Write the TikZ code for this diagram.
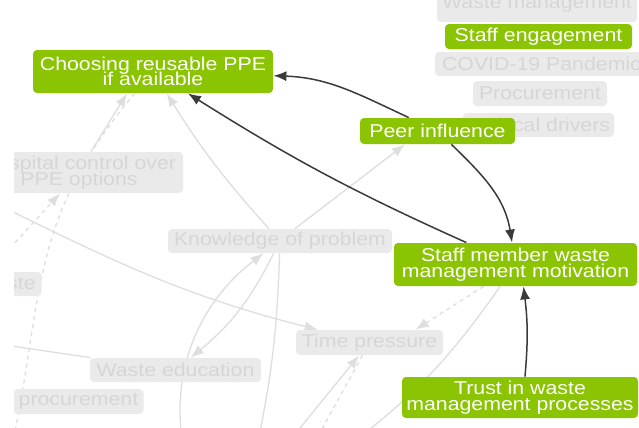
\documentclass[tikz,border=0pt]{standalone}
\usepackage{fontspec}
\setmainfont{Liberation Sans}[FakeStretch=1.145]
\usepackage{tikz}
\usetikzlibrary{arrows.meta}
\pgfdeclarelayer{background}
\pgfsetlayers{background,main}
\definecolor{factorgreen}{RGB}{138,196,2}
\definecolor{fadefill}{RGB}{234,234,234}
\definecolor{fadetext}{RGB}{214,214,214}
\definecolor{fadeline}{RGB}{222,222,222}
\definecolor{linkdark}{RGB}{58,58,58}
\newcommand{\mapfont}{\fontsize{9.3pt}{7.8pt}\selectfont\lineskiplimit=-9pt\relax}
\tikzset{
  factor/.style={fill=factorgreen, text=white, rounded corners=2pt, inner sep=0pt, align=center, font=\mapfont},
  faded/.style={fill=fadefill, text=fadetext, rounded corners=2pt, inner sep=0pt, align=center, font=\mapfont},
  link/.style={draw=linkdark, line width=0.75pt, -{Latex[length=6.5pt,width=5pt]}},
  fadedlink/.style={draw=fadeline, line width=0.65pt, -{Latex[length=6.5pt,width=5pt]}},
  fadeddots/.style={fadedlink, dash pattern=on 2pt off 2pt}
}

\begin{document}
\begin{tikzpicture}[x=0.5pt, y=-0.5pt]
  \useasboundingbox (0,0) rectangle (639,428);

  % factors outside the selection
  \begin{scope}
    \clip (14,0) rectangle (639,428);
    \node[faded, minimum width=100pt, minimum height=18pt] (wastemgmt) at (537,4) {Waste management};
    \node[faded, minimum width=106.5pt, minimum height=12pt] (covid) at (541.5,64) {COVID-19 Pandemic};
    \node[faded, minimum width=67pt, minimum height=12.5pt] (procure) at (540,93.5) {Procurement};
    \node[faded, minimum width=75.5pt, minimum height=12pt] (political) at (538.5,125) {Political drivers};
    \node[faded, minimum width=104pt, minimum height=20.5pt] (hospital) at (79,172.5) {Hospital control over\\PPE options};
    \node[faded, minimum width=112pt, minimum height=12pt] (knowledge) at (280,241) {Knowledge of problem};
    \node[faded, anchor=east, minimum height=12pt, text width=25pt, align=right, inner xsep=3pt] (ste) at (42,284) {ste};
    \node[faded, minimum width=73.5pt, minimum height=12.5pt] (timepress) at (369.5,342.5) {Time pressure};
    \node[faded, minimum width=85.5pt, minimum height=12pt] (wasteedu) at (175.5,370) {Waste education};
    \node[faded, minimum width=65pt, minimum height=12.5pt] (procurement) at (78.5,401.5) {procurement};
  \end{scope}

  % selected factors
  \node[factor, minimum width=120pt, minimum height=21.5pt] (choose) at (153,71.5) {Choosing reusable PPE\\if available};
  \node[factor, minimum width=93.5pt, minimum height=12.5pt] (engage) at (538.5,36.5) {Staff engagement};
  \node[factor, minimum width=77.5pt, minimum height=13pt] (peer) at (437.5,131) {Peer influence};
  \node[factor, minimum width=121.5pt, minimum height=21.5pt] (motiv) at (515.5,264.5) {Staff member waste\\management motivation};
  \node[factor, minimum width=118pt, minimum height=20.5pt] (trust) at (520,397.5) {Trust in waste\\management processes};

  \begin{pgfonlayer}{background}
    \fill[white] (0,0) rectangle (639,428);
    \begin{scope}
      \clip (14,0) rectangle (639,428);
      \coordinate (offA) at (-28,290);
      \coordinate (offB) at (10,455);
      \coordinate (offC) at (-40,186);
      \coordinate (offD) at (182,440);
      \coordinate (offE) at (255,455);
      \coordinate (offF) at (274,460);
      \coordinate (offG) at (309,453);
      \coordinate (offH) at (340,452);
      \coordinate (offI) at (-40,338.5);

      % faint links
      \draw[fadedlink] ([xshift=6pt]hospital.north) -- ([xshift=-13pt]choose.south);
      \draw[fadeddots] (choose) to[out=230, in=78, looseness=1.1] (offB);
      \draw[fadeddots] (offA) -- (hospital);
      \draw[fadedlink] (offC) to[out=-26, in=166] (timepress);
      \draw[fadedlink] (knowledge) to[bend left=5] (choose);
      \draw[fadedlink] ([xshift=7.5pt]knowledge.north) -- ([xshift=-16.25pt]peer.south);
      \draw[fadedlink] (knowledge) to[bend left=12] (wasteedu);
      \draw[fadedlink] (offD) .. controls (170,350) and (215,290) .. (knowledge);
      \draw[fadedlink] (knowledge) to[bend left=5] (offE);
      \draw[fadedlink] (offF) -- (timepress);
      \draw[fadeddots] (timepress) -- (offG);
      \draw[fadeddots] ([xshift=-16pt]motiv.south) -- ([xshift=23pt]timepress.north);
      \draw[fadedlink] (motiv) to[out=235, in=37] (offH);
      \draw[fadedlink] (wasteedu) -- (offI);

      % links between selected factors
      \draw[link] (motiv) to[bend left=4] (choose);
      \draw[link] (peer) to[out=155, in=-2] (choose);
      \draw[link] (peer) to[out=-44, in=99] (motiv);
      \draw[link] ([xshift=2.5pt]trust.north) to[bend right=6] ([xshift=4pt]motiv.south);
    \end{scope}
  \end{pgfonlayer}
\end{tikzpicture}
\end{document}
